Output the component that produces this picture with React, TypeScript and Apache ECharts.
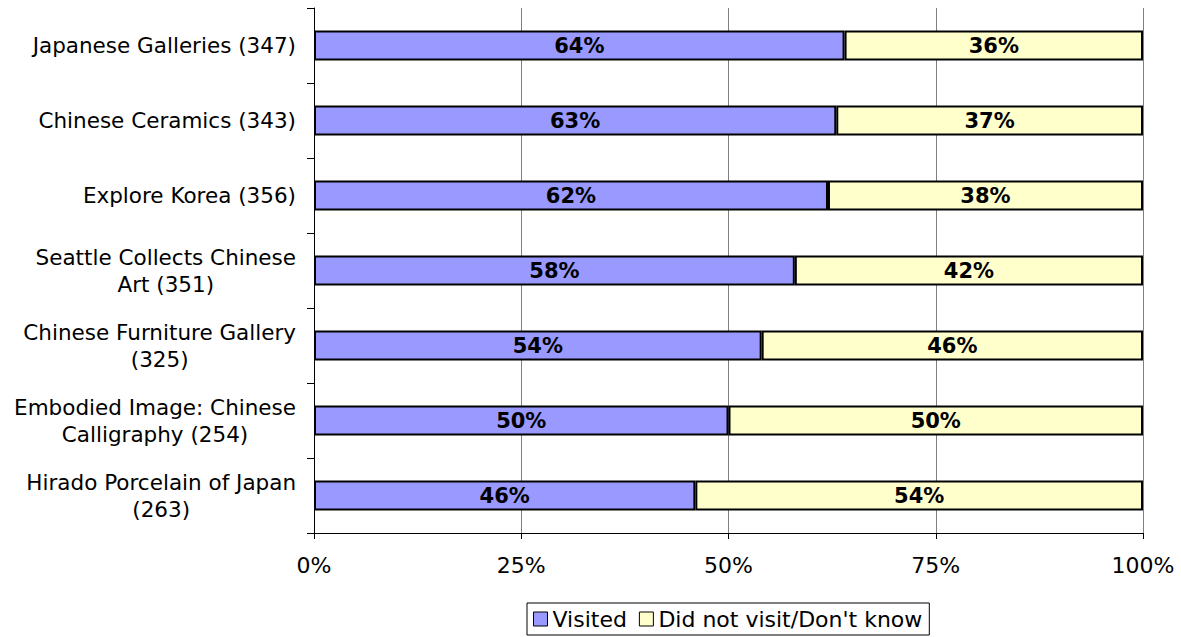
import React, { useEffect, useRef } from "react";
import * as echarts from "echarts";

const categories = [
  "Japanese Galleries (347)",
  "Chinese Ceramics (343)",
  "Explore Korea (356)",
  "Seattle Collects Chinese\nArt (351)",
  "Chinese Furniture Gallery\n(325)",
  "Embodied Image: Chinese\nCalligraphy (254)",
  "Hirado Porcelain of Japan\n(263)",
];
const visited = [64, 63, 62, 58, 54, 50, 46];
const notVisited = [36, 37, 38, 42, 46, 50, 54];
const xTicks = [0, 25, 50, 75, 100];
const seriesNames = ["Visited", "Did not visit/Don't know"];

const FONT = "DejaVu Sans";

export default function App() {
  const ref = useRef<HTMLDivElement>(null);
  useEffect(() => {
    if (!ref.current) return;
    const chart = echarts.init(ref.current, null, { renderer: "svg" });
    const label = {
      show: true,
      position: "inside",
      formatter: (p: any) => p.value + "%",
      color: "#000",
      fontWeight: "bold",
      fontSize: 21,
      fontFamily: FONT,
    };
    chart.setOption({
      animation: false,
      backgroundColor: "#fff",
      textStyle: { fontFamily: FONT },
      grid: { left: 314, right: 38, top: 8, bottom: 104, containLabel: false },
      legend: {
        data: seriesNames,
        left: 527,
        top: 603,
        orient: "horizontal",
        itemWidth: 14,
        itemHeight: 14,
        itemGap: 12,
        padding: [5, 7, 5, 6],
        borderColor: "#000",
        borderWidth: 1,
        borderRadius: 0,
        icon: "rect",
        itemStyle: { borderColor: "#000", borderWidth: 1 },
        textStyle: { fontSize: 22, fontFamily: FONT, color: "#000" },
      },
      xAxis: {
        type: "value",
        min: xTicks[0],
        max: xTicks[xTicks.length - 1],
        interval: 25,
        axisLine: { show: true, lineStyle: { color: "#000", width: 1 } },
        axisTick: { show: true, length: 6, lineStyle: { color: "#000" } },
        splitLine: { show: true, lineStyle: { color: "#808080", width: 1 } },
        axisLabel: {
          formatter: (v: number) => v + "%",
          fontSize: 22,
          fontFamily: FONT,
          color: "#000",
          margin: 21,
        },
      },
      yAxis: {
        type: "category",
        data: categories,
        inverse: true,
        axisLine: { show: true, lineStyle: { color: "#000", width: 1 } },
        axisTick: { show: true, length: 7, lineStyle: { color: "#000" } },
        splitLine: { show: false },
        axisLabel: {
          fontSize: 21.5,
          fontFamily: FONT,
          color: "#000",
          margin: 18,
          lineHeight: 27,
          align: "right",
          formatter: (v: string) =>
            v
              .split("\n")
              .map((l) => `{c|${l}}`)
              .join("\n"),
          rich: {
            c: {
              align: "center",
              fontSize: 21.5,
              fontFamily: FONT,
              color: "#000",
              lineHeight: 27,
            },
          },
        },
      },
      series: [
        {
          name: seriesNames[0],
          type: "bar",
          stack: "total",
          data: visited,
          barWidth: 30,
          itemStyle: { color: "#9999FF", borderColor: "#000", borderWidth: 2 },
          label,
        },
        {
          name: seriesNames[1],
          type: "bar",
          stack: "total",
          data: notVisited,
          barWidth: 30,
          itemStyle: { color: "#FFFFCC", borderColor: "#000", borderWidth: 2 },
          label,
        },
      ],
    });
    return () => chart.dispose();
  }, []);
  return <div ref={ref} style={{ width: 1181, height: 637, position: "absolute", left: 0, top: 0 }} />;
}
